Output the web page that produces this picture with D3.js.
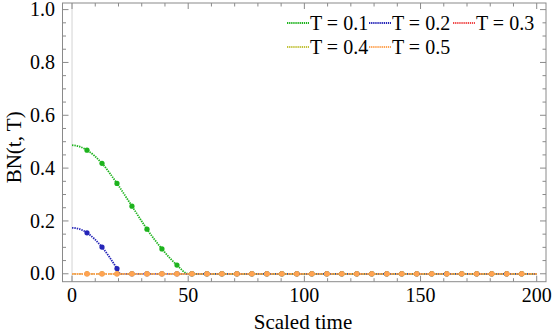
<!DOCTYPE html>
<html>
<head>
<meta charset="utf-8">
<script src="https://cdn.jsdelivr.net/npm/d3@7"></script>
</head>
<body style="margin:0">
<div id="chart"></div>
<script>
// values
const seriesNames = ["T = 0.1", "T = 0.2", "T = 0.3", "T = 0.4", "T = 0.5"];
const seriesColors = ["#1db31d", "#2525b8", "#f04848", "#c2c23a", "#ffa352"];

// T = 0.1 : [time, BN]
const green = [[0, 0.487], [3, 0.482], [6.45, 0.468], [12.9, 0.418], [19.35, 0.342], [25.8, 0.256],
  [32.26, 0.169], [38.7, 0.094], [45.16, 0.033], [50, 0], [200, 0]];
// T = 0.2
const blue = [[0, 0.174], [3, 0.170], [6.45, 0.155], [12.9, 0.101], [19.35, 0.02], [20.8, 0], [200, 0]];
// T = 0.3, 0.4, 0.5 stay at zero
const red = [[0, 0], [200, 0]];
const yellow = [[0, 0], [200, 0]];
const orange = [[0, 0], [200, 0]];

// times where the plot markers sit
const markerTimes = [6.45, 12.9, 19.35, 25.8, 32.26, 38.7, 45.16, 51.61, 58.06, 64.52, 70.97, 77.42,
  83.87, 90.32, 96.77, 103.23, 109.68, 116.13, 122.58, 129.03, 135.48, 141.94, 148.39, 154.84,
  161.29, 167.74, 174.19, 180.65, 187.1, 193.55];

const xTicks = [0, 50, 100, 150, 200];
const yTicks = [0, 0.2, 0.4, 0.6, 0.8, 1.0];

const width = 553, height = 335;
const frame = { left: 62.5, right: 546, top: 3, bottom: 281.7 };
const fontFam = '"Liberation Serif", "Tinos", "Nimbus Roman", "FreeSerif", "Times New Roman"';

const svg = d3.select("#chart").append("svg")
    .attr("width", width)
    .attr("height", height)
    .style("font-family", fontFam);

const x = d3.scaleLinear().domain([-4.1, 204]).range([frame.left, frame.right]);
const y = d3.scaleLinear().domain([-0.03, 1.025]).range([frame.bottom, frame.top]);

// faint axis line at t = 0
svg.append("line")
    .attr("x1", x(0)).attr("x2", x(0))
    .attr("y1", frame.top).attr("y2", frame.bottom)
    .attr("stroke", "#e2e2e2").attr("stroke-width", 1.5);

// frame + ticks
const frameColor = "#8a8a8a";
svg.append("rect")
    .attr("x", frame.left).attr("y", frame.top)
    .attr("width", frame.right - frame.left).attr("height", frame.bottom - frame.top)
    .attr("fill", "none").attr("stroke", frameColor).attr("stroke-width", 1);

const xMinor = d3.range(0, 201, 10).filter(v => v % 50 !== 0);
const yMinor = d3.range(0, 1.01, 0.05).filter(v => Math.abs(v * 5 - Math.round(v * 5)) > 1e-6);

const tickG = svg.append("g").attr("stroke", frameColor).attr("stroke-width", 1);
xTicks.forEach(v => {
    tickG.append("line").attr("x1", x(v)).attr("x2", x(v)).attr("y1", frame.bottom).attr("y2", frame.bottom - 6);
    tickG.append("line").attr("x1", x(v)).attr("x2", x(v)).attr("y1", frame.top).attr("y2", frame.top + 6);
});
xMinor.forEach(v => {
    tickG.append("line").attr("x1", x(v)).attr("x2", x(v)).attr("y1", frame.bottom).attr("y2", frame.bottom - 3.5);
    tickG.append("line").attr("x1", x(v)).attr("x2", x(v)).attr("y1", frame.top).attr("y2", frame.top + 3.5);
});
yTicks.forEach(v => {
    tickG.append("line").attr("x1", frame.left).attr("x2", frame.left + 6).attr("y1", y(v)).attr("y2", y(v));
    tickG.append("line").attr("x1", frame.right).attr("x2", frame.right - 6).attr("y1", y(v)).attr("y2", y(v));
});
yMinor.forEach(v => {
    tickG.append("line").attr("x1", frame.left).attr("x2", frame.left + 3.5).attr("y1", y(v)).attr("y2", y(v));
    tickG.append("line").attr("x1", frame.right).attr("x2", frame.right - 3.5).attr("y1", y(v)).attr("y2", y(v));
});

// tick labels
svg.append("g").selectAll("text")
    .data(xTicks)
    .join("text")
    .attr("x", d => x(d))
    .attr("y", 301.5)
    .attr("text-anchor", "middle")
    .style("font-family", fontFam)
    .style("font-size", "20px")
    .text(d => d);

svg.append("g").selectAll("text")
    .data(yTicks)
    .join("text")
    .attr("x", 55)
    .attr("y", d => y(d) + 6.6)
    .attr("text-anchor", "end")
    .style("font-family", fontFam)
    .style("font-size", "20px")
    .text(d => d.toFixed(1));

// axis titles
svg.append("text")
    .attr("x", 303).attr("y", 329)
    .attr("text-anchor", "middle")
    .style("font-family", fontFam)
    .style("font-size", "21px")
    .text("Scaled time");

svg.append("text")
    .attr("transform", `translate(21,${(frame.top + frame.bottom) / 2 + 5}) rotate(-90)`)
    .attr("text-anchor", "middle")
    .style("font-family", fontFam)
    .style("font-size", "21px")
    .text("BN(t, T)");

// curves
const line = d3.line()
    .x(d => x(d[0]))
    .y(d => y(d[1]))
    .curve(d3.curveMonotoneX);

const allSeries = [green, blue, red, yellow, orange];
const plotG = svg.append("g");

allSeries.forEach((data, i) => {
    plotG.append("path")
        .datum(data)
        .attr("d", line)
        .attr("fill", "none")
        .attr("stroke", seriesColors[i])
        .attr("stroke-width", 1.8)
        .attr("stroke-dasharray", "1.4,1");

    // markers: listed points at marker times, zero once the curve has reached zero
    const zeroFrom = data.find(p => p[1] === 0);
    const pts = markerTimes.map(t => {
        const hit = data.find(p => Math.abs(p[0] - t) < 0.01);
        if (hit) return hit;
        return zeroFrom && t >= zeroFrom[0] ? [t, 0] : null;
    }).filter(p => p);

    plotG.append("g").selectAll("circle")
        .data(pts)
        .join("circle")
        .attr("cx", d => x(d[0]))
        .attr("cy", d => y(d[1]))
        .attr("r", 2.6)
        .attr("fill", seriesColors[i]);
});

// legend
const legendPos = [[287, 23], [369, 23], [453, 23], [287, 47], [369, 47]];
const legend = svg.append("g").selectAll("g")
    .data(seriesNames)
    .join("g")
    .attr("transform", (d, i) => `translate(${legendPos[i][0]},${legendPos[i][1]})`);

legend.append("line")
    .attr("x1", 0).attr("x2", 22)
    .attr("stroke", (d, i) => seriesColors[i])
    .attr("stroke-width", 2)
    .attr("stroke-dasharray", "1.3,0.8");

legend.append("text")
    .attr("x", 23)
    .attr("y", 6.6)
    .style("font-family", fontFam)
    .style("font-size", "20px")
    .text(d => d);
</script>
</body>
</html>
